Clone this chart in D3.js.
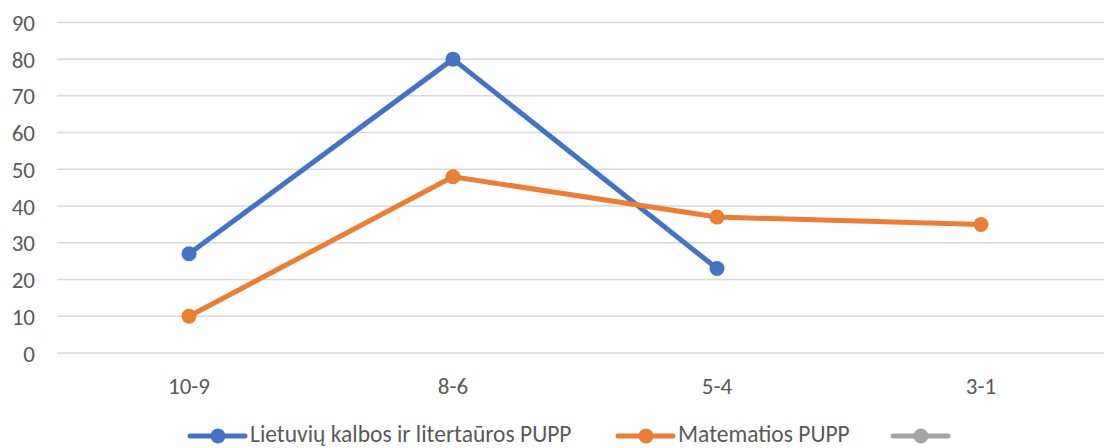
<!DOCTYPE html>
<html>
<head>
<meta charset="utf-8">
<script src="https://cdn.jsdelivr.net/npm/d3@7"></script>
<style>
  html, body { margin: 0; padding: 0; background: #fff; }
  svg { display: block; }
  text { font-family: Carlito, Calibri, Lato, sans-serif; fill: #595959; }
</style>
</head>
<body>
<svg id="chart" width="1104" height="448"></svg>
<script>
const categories = ["10-9", "8-6", "5-4", "3-1"];
const lietuviu = [27, 80, 23, null];
const matematika = [10, 48, 37, 35];
const third = [null, null, null, null];
const yTicks = [0, 10, 20, 30, 40, 50, 60, 70, 80, 90];
const seriesNames = ["Lietuvių kalbos ir litertaūros PUPP", "Matematios PUPP", ""];
const seriesColors = ["#4472C4", "#ED7D31", "#A5A5A5"];

const series = [lietuviu, matematika, third];

const svg = d3.select("#chart");
const x = d3.scaleBand().domain(categories).range([57, 1113]);
const y = d3.scaleLinear().domain([0, 90]).range([353, 22.4]);

// gridlines
svg.append("g").selectAll("line").data(yTicks).join("line")
  .attr("x1", 57).attr("x2", 1104)
  .attr("y1", d => y(d)).attr("y2", d => y(d))
  .attr("stroke", "#D9D9D9").attr("stroke-width", 1.5);

// y axis labels
const yAxis = d3.axisLeft(y).tickValues(yTicks).tickSize(0).tickPadding(0);
const gy = svg.append("g").attr("transform", "translate(35,0)").call(yAxis);
gy.select(".domain").remove();
gy.selectAll("text").style("font-size", "23px").attr("fill", "#595959")
  .attr("font-family", null).attr("dy", "0.35em");

// x axis labels
const xAxis = d3.axisBottom(x).tickSize(0).tickPadding(0);
const gx = svg.append("g").attr("transform", "translate(0,377)").call(xAxis);
gx.select(".domain").remove();
gx.selectAll("text").style("font-size", "23px").attr("fill", "#595959")
  .attr("font-family", null).attr("dy", "0.72em");

const cx = d => x(d) + x.bandwidth() / 2;

series.forEach((vals, i) => {
  const pts = categories.map((c, j) => ({ c, v: vals[j] }));
  const line = d3.line().defined(d => d.v != null).x(d => cx(d.c)).y(d => y(d.v));
  svg.append("path").datum(pts)
    .attr("d", line).attr("fill", "none")
    .attr("stroke", seriesColors[i]).attr("stroke-width", 5)
    .attr("stroke-linejoin", "round").attr("stroke-linecap", "round");
  svg.append("g").selectAll("circle").data(pts.filter(d => d.v != null)).join("circle")
    .attr("cx", d => cx(d.c)).attr("cy", d => y(d.v)).attr("r", 7.5)
    .attr("fill", seriesColors[i]);
});

// legend
const legendX = [190, 618, 893];
const lg = svg.append("g");
seriesNames.forEach((name, i) => {
  const g = lg.append("g").attr("transform", `translate(${legendX[i]},436)`);
  g.append("line").attr("x1", 0).attr("x2", 55).attr("y1", 0).attr("y2", 0)
    .attr("stroke", seriesColors[i]).attr("stroke-width", 5).attr("stroke-linecap", "round");
  g.append("circle").attr("cx", 28).attr("cy", 0).attr("r", 7.5).attr("fill", seriesColors[i]);
  g.append("text").attr("x", 60).attr("y", 6)
    .style("font-size", "23.5px").text(name);
});
</script>
</body>
</html>
